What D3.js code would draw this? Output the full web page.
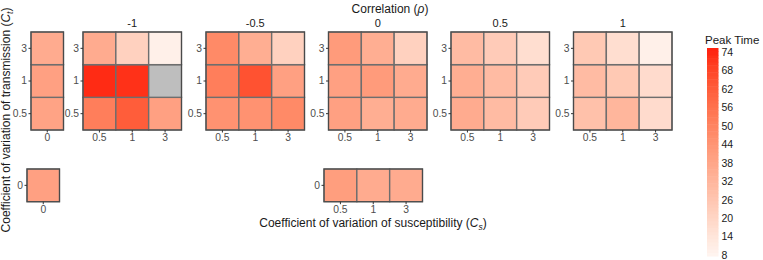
<!DOCTYPE html>
<html>
<head>
<meta charset="utf-8">
<script src="https://cdn.jsdelivr.net/npm/d3@7"></script>
<style>
  body { margin: 0; background: #fff; }
  svg { font-family: "Liberation Sans", Arial, sans-serif; }
</style>
</head>
<body>
<div id="chart"></div>
<script>
// facet levels
const rhoLevels = ["-1", "-0.5", "0", "0.5", "1"];
const csLevels = ["0.5", "1", "3"];
const ctLevels = ["0.5", "1", "3"];

// peak time per panel, rows = Ct (0.5, 1, 3), cols = Cs (0.5, 1, 3); null = NA
const peakRhoM1 = [[52, 62, 40], [73, 72, null], [36, 22, 10]];
const peakRhoM05 = [[45, 45, 48], [52, 65, 40], [48, 35, 22]];
const peakRho0 = [[40, 35, 36], [40, 42, 36], [42, 35, 22]];
const peakRho05 = [[36, 30, 24], [35, 30, 24], [30, 24, 17]];
const peakRho1 = [[28, 32, 18], [30, 25, 18], [25, 17, 10]];
const peakPanels = [peakRhoM1, peakRhoM05, peakRho0, peakRho05, peakRho1];

// Cs = 0 column (rows Ct 0.5, 1, 3), Ct = 0 row (cols Cs 0.5, 1, 3), and Cs = Ct = 0
const peakCs0 = [39, 40, 36];
const peakCt0 = [41, 36, 36];
const peakBoth0 = [40];

const legendBreaks = [8, 14, 20, 26, 32, 38, 44, 50, 56, 62, 68, 74];

const W = 763, H = 260;
const svg = d3.select("#chart").append("svg")
    .attr("width", W).attr("height", H);

const color = d3.scaleLinear()
    .domain([8, 74])
    .range(["#FFF5F0", "#FF2410"])
    .interpolate(d3.interpolateLab)
    .clamp(true);
const naColor = "#BEBEBE";

const tickCol = "#4D4D4D";
const cellStroke = "#6E6E6E";

// draw one heatmap block
function drawBlock(x0, y0, w, h, xs, ys, cells) {
    let g = svg.append("g").attr("transform", `translate(${x0},${y0})`);
    let x = d3.scaleBand().domain(xs).range([0, w]);
    let y = d3.scaleBand().domain(ys).range([h, 0]);

    g.selectAll("rect.cell")
        .data(cells)
        .enter().append("rect")
        .attr("class", "cell")
        .attr("x", d => x(d.x))
        .attr("y", d => y(d.y))
        .attr("width", x.bandwidth())
        .attr("height", y.bandwidth())
        .attr("fill", d => d.v == null ? naColor : color(d.v))
        .attr("stroke", cellStroke)
        .attr("stroke-width", 1.4);

    g.append("rect")
        .attr("width", w).attr("height", h)
        .attr("fill", "none")
        .attr("stroke", "#4A4A4A")
        .attr("stroke-width", 1.1);

    let xa = g.append("g").attr("transform", `translate(0,${h})`)
        .call(d3.axisBottom(x).tickSize(2.5).tickPadding(1));
    let ya = g.append("g")
        .call(d3.axisLeft(y).tickSize(2.5).tickPadding(1.5));
    [xa, ya].forEach(a => {
        a.select(".domain").remove();
        a.selectAll("line").attr("stroke", "#333");
        a.selectAll("text")
            .attr("fill", tickCol)
            .attr("font-size", "10.3px")
            .attr("font-family", "Liberation Sans, Arial, sans-serif");
    });
    return g;
}

// main panels
const panelX = [83, 206, 328.5, 451, 573.5];
const panelTop = 32, panelH = 98, panelW = 98.5;

peakPanels.forEach((m, i) => {
    let cells = [];
    ctLevels.forEach((ct, r) => {
        csLevels.forEach((cs, c) => cells.push({x: cs, y: ct, v: m[r][c]}));
    });
    drawBlock(panelX[i], panelTop, panelW, panelH, csLevels, ctLevels, cells);
    svg.append("text")
        .attr("x", panelX[i] + panelW / 2)
        .attr("y", 27)
        .attr("text-anchor", "middle")
        .attr("font-size", "11px")
        .attr("fill", "#1A1A1A")
        .text(rhoLevels[i]);
});

// Cs = 0 column
drawBlock(31, panelTop, 32.5, panelH, ["0"], ctLevels,
    ctLevels.map((ct, r) => ({x: "0", y: ct, v: peakCs0[r]})));

// Cs = Ct = 0
drawBlock(27, 169, 32.5, 32.7, ["0"], ["0"], [{x: "0", y: "0", v: peakBoth0[0]}]);

// Ct = 0 row
drawBlock(324, 169, panelW, 32.7, csLevels, ["0"],
    csLevels.map((cs, c) => ({x: cs, y: "0", v: peakCt0[c]})));

// titles
let topTitle = svg.append("text")
    .attr("x", 390).attr("y", 13)
    .attr("text-anchor", "middle")
    .attr("font-size", "12px")
    .attr("fill", "#1A1A1A");
topTitle.append("tspan").text("Correlation (");
topTitle.append("tspan").attr("font-style", "italic").text("ρ");
topTitle.append("tspan").text(")");

let xTitle = svg.append("text")
    .attr("x", 373).attr("y", 227)
    .attr("text-anchor", "middle")
    .attr("font-size", "12px")
    .attr("fill", "#1A1A1A");
xTitle.append("tspan").text("Coefficient of variation of susceptibility (");
xTitle.append("tspan").attr("font-style", "italic").text("C");
xTitle.append("tspan").attr("font-style", "italic").attr("font-size", "8.5px").attr("dy", 3).text("s");
xTitle.append("tspan").attr("dy", -3).text(")");

let yTitle = svg.append("text")
    .attr("transform", "translate(10,120) rotate(-90)")
    .attr("text-anchor", "middle")
    .attr("font-size", "12px")
    .attr("fill", "#1A1A1A");
yTitle.append("tspan").text("Coefficient of variation of transmission (");
yTitle.append("tspan").attr("font-style", "italic").text("C");
yTitle.append("tspan").attr("font-style", "italic").attr("font-size", "8.5px").attr("dy", 3).text("t");
yTitle.append("tspan").attr("dy", -3).text(")");

// legend
const legX = 707, legW = 11.5, legTop = 48, legBot = 256;
const legScale = d3.scaleLinear().domain([7.7, 75.3]).range([legBot, legTop]);
const nBins = 60;
const binVals = d3.range(nBins).map(i => 7.7 + (75.3 - 7.7) * (i + 0.5) / nBins);
const binH = (legBot - legTop) / nBins;
svg.append("g").selectAll("rect")
    .data(binVals)
    .enter().append("rect")
    .attr("x", legX)
    .attr("y", d => legScale(d) - binH / 2)
    .attr("width", legW)
    .attr("height", binH + 0.5)
    .attr("fill", d => color(d));

svg.append("text")
    .attr("x", 705).attr("y", 44)
    .attr("font-size", "11.5px")
    .attr("fill", "#1A1A1A")
    .text("Peak Time");

let legAxis = svg.append("g")
    .attr("transform", `translate(${legX + legW},0)`)
    .call(d3.axisRight(legScale).tickValues(legendBreaks).tickSize(0).tickPadding(3));
legAxis.select(".domain").remove();
legAxis.selectAll("text")
    .attr("font-size", "10.5px")
    .attr("fill", "#1A1A1A")
    .attr("font-family", "Liberation Sans, Arial, sans-serif");
</script>
</body>
</html>
